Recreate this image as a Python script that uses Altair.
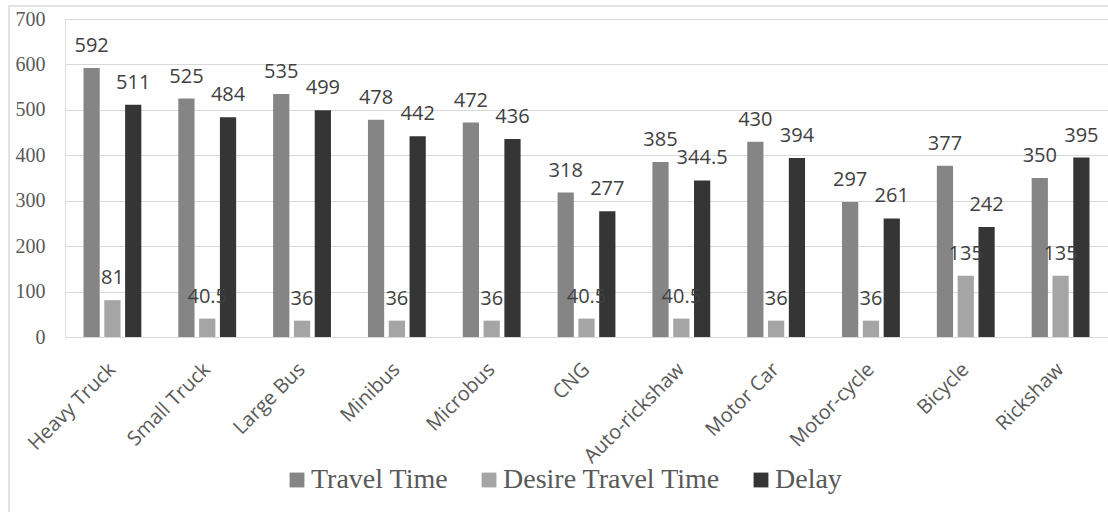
import altair as alt
import pandas as pd

categories = ["Heavy Truck", "Small Truck", "Large Bus", "Minibus", "Microbus", "CNG",
              "Auto-rickshaw", "Motor Car", "Motor-cycle", "Bicycle", "Rickshaw"]
series = ["Travel Time", "Desire Travel Time", "Delay"]
travel_time = [592, 525, 535, 478, 472, 318, 385, 430, 297, 377, 350]
desire_travel_time = [81, 40.5, 36, 36, 36, 40.5, 40.5, 36, 36, 135, 135]
delay = [511, 484, 499, 442, 436, 277, 344.5, 394, 261, 242, 395]
y_ticks = [0, 100, 200, 300, 400, 500, 600, 700]
colors = ["#858585", "#a5a5a5", "#353535"]

rows = []
for s, vals in zip(series, [travel_time, desire_travel_time, delay]):
    for c, v in zip(categories, vals):
        rows.append({"category": c, "series": s, "value": v, "label": f"{v:g}"})
df = pd.DataFrame(rows)

W, H = 1043, 318

x_enc = alt.X("category:N", sort=categories, title=None,
              scale=alt.Scale(paddingInner=0.39, paddingOuter=0.195),
              axis=alt.Axis(labelAngle=-45, labelAlign="right", labelBaseline="middle",
                            labelFont="Open Sans", labelFontSize=20, labelColor="#595959",
                            labelPadding=29, ticks=False, domain=False, grid=False))
xo_enc = alt.XOffset("series:N", sort=series, scale=alt.Scale(paddingInner=0.22, paddingOuter=0))
y_enc = alt.Y("value:Q", title=None,
              scale=alt.Scale(domain=[0, 700], nice=False),
              axis=alt.Axis(values=y_ticks, labelFont="Liberation Serif", labelFontSize=20,
                            labelColor="#595959", labelPadding=20, ticks=False, domain=False,
                            grid=True, gridColor="#d9d9d9", gridWidth=1))

bars = alt.Chart(df).mark_bar().encode(
    x=x_enc, xOffset=xo_enc, y=y_enc,
    color=alt.Color("series:N", sort=series, title=None,
                    scale=alt.Scale(domain=series, range=colors),
                    legend=alt.Legend(orient="none", direction="horizontal",
                                      legendX=218, legendY=447, padding=0,
                                      symbolType="square", symbolSize=220, symbolStrokeWidth=0,
                                      labelFont="Liberation Serif", labelFontSize=28,
                                      labelColor="#595959", labelOffset=0, columnPadding=26,
                                      labelLimit=400)),
)

labels = alt.Chart(df).mark_text(baseline="alphabetic", dy=-16, font="Open Sans",
                                 fontSize=20, color="#404040").encode(
    x=alt.X("category:N", sort=categories),
    xOffset=alt.XOffset("series:N", sort=series),
    y=alt.Y("value:Q"),
    text="label:N",
)

border = alt.Chart(pd.DataFrame({"a": [0]})).mark_rect(
    filled=False, stroke="#d9d9d9", strokeWidth=1.5).encode(
    x=alt.value(-56), x2=alt.value(W + 40), y=alt.value(-13), y2=alt.value(H + 220))

chart = alt.layer(border, bars, labels).properties(
    width=W, height=H,
    autosize=alt.AutoSizeParams(type="none"),
    padding={"left": 65, "top": 19, "right": 0, "bottom": 175},
).configure_view(stroke=None).configure(background="white")

chart.save("out.html", embed_options={"renderer": "svg", "actions": False})
